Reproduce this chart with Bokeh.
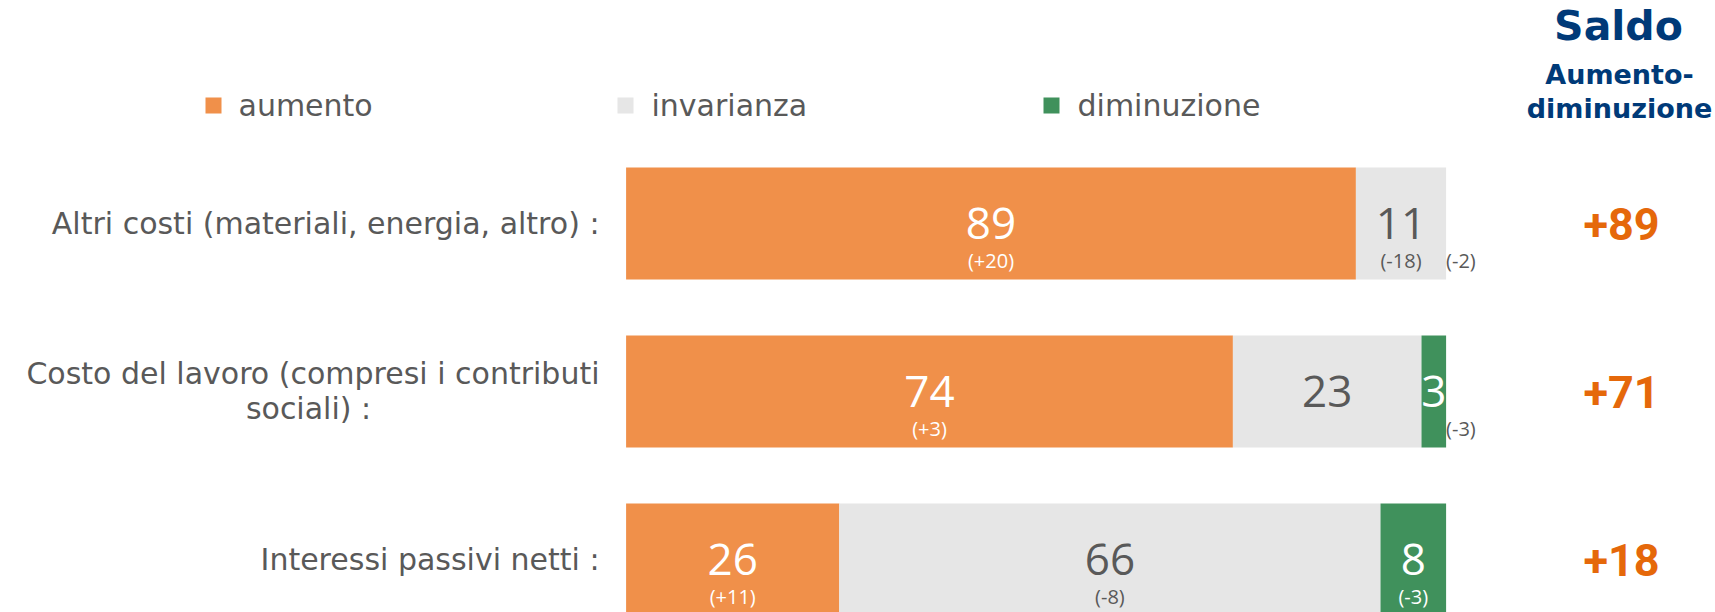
from bokeh.plotting import figure
from bokeh.models import ColumnDataSource, Range1d
from bokeh.core.properties import value
from bokeh.embed import file_html
from bokeh.resources import INLINE

# ---------------- data ----------------
categories = [
    "Altri costi (materiali, energia, altro) :",
    "Costo del lavoro (compresi i contributi\nsociali) :",
    "Interessi passivi netti :",
]
series = ["aumento", "invarianza", "diminuzione"]
aumento = [89, 74, 26]
invarianza = [11, 23, 66]
diminuzione = [0, 3, 8]
var_aumento = ["(+20)", "(+3)", "(+11)"]
var_invarianza = ["(-18)", "", "(-8)"]
var_diminuzione = ["(-2)", "(-3)", "(-3)"]
header_lines = ["Saldo", "Aumento-", "diminuzione"]

# ---------------- style ----------------
COL = {"aumento": "#F0904A", "invarianza": "#E6E6E6", "diminuzione": "#40915C"}
TXT_ON = {"aumento": "white", "invarianza": "#595959", "diminuzione": "white"}
GREY_TXT = "#595959"
BLUE = "#003A78"
SALDO_COL = "#E5680A"
FONT = "Open Sans"
LABEL_FONT = "DejaVu Sans"

W, H = 1715, 612
X0_PX, PX_PER_PCT = 625.6, 8.2       # bar origin and scale in canvas px
Y0_PX, PX_PER_ROW = 223.0, 168.0     # first row centre and row pitch


def X(px):
    return (px - X0_PX) / PX_PER_PCT


def Y(py):
    return (py - Y0_PX) / PX_PER_ROW


p = figure(width=W, height=H, output_backend="svg", toolbar_location=None,
           x_range=Range1d(X(0), X(W)), y_range=Range1d(Y(H), Y(0)),
           min_border=0)
p.axis.visible = False
p.grid.visible = False
p.outline_line_color = None
p.background_fill_color = "white"
p.border_fill_color = "white"

rows = list(range(len(categories)))
src = ColumnDataSource(dict(y=rows, aumento=aumento, invarianza=invarianza,
                            diminuzione=diminuzione))
p.hbar_stack(series, y="y", height=112 / PX_PER_ROW, source=src,
             color=[COL[s] for s in series], line_color=None)

# ---------------- value labels ----------------
vals = {"aumento": aumento, "invarianza": invarianza, "diminuzione": diminuzione}
vars_ = {"aumento": var_aumento, "invarianza": var_invarianza, "diminuzione": var_diminuzione}
SUB_DY = 37 / PX_PER_ROW
bx, by, bt, bc = [], [], [], []
sx, sy, st, sc = [], [], [], []
ox, oy, ot = [], [], []
for i in rows:
    left = 0
    for s in series:
        v = vals[s][i]
        mid = left + v / 2
        if v > 0:
            bx.append(mid); by.append(i); bt.append(str(v)); bc.append(TXT_ON[s])
        lab = vars_[s][i]
        if lab:
            if v >= 5:
                sx.append(mid); sy.append(i + SUB_DY); st.append(lab); sc.append(TXT_ON[s])
            else:
                ox.append(left + v); oy.append(i + SUB_DY); ot.append(lab)
        left += v

p.text(x=bx, y=by, text=bt, text_color=bc, text_font=value(FONT),
       text_font_size="44px", text_align="center", text_baseline="middle")
p.text(x=sx, y=sy, text=st, text_color=sc, text_font=value(FONT),
       text_font_size="20px", text_align="center", text_baseline="middle")
p.text(x=ox, y=oy, text=ot, text_color=GREY_TXT, text_font=value(FONT),
       text_font_size="20px", text_align="left", text_baseline="middle",
       x_offset=0)

# ---------------- category labels ----------------
LBL_RIGHT = 599
for i, c in enumerate(categories):
    lines = c.split("\n")
    if len(lines) == 1:
        p.text(x=[X(LBL_RIGHT)], y=[i], text=[c], text_color=GREY_TXT,
               text_font=value(LABEL_FONT), text_font_size="30px",
               text_align="right", text_baseline="middle")
    else:
        y1 = i - 18 / PX_PER_ROW
        y2 = i + 17 / PX_PER_ROW
        p.text(x=[X(LBL_RIGHT)], y=[y1], text=[lines[0]], text_color=GREY_TXT,
               text_font=value(LABEL_FONT), text_font_size="30px",
               text_align="right", text_baseline="middle")
        p.text(x=[X(308)], y=[y2], text=[lines[1]], text_color=GREY_TXT,
               text_font=value(LABEL_FONT), text_font_size="30px",
               text_align="center", text_baseline="middle")

# ---------------- legend ----------------
leg_sq_px = [213, 625, 1051]
leg_tx_px = [238, 651, 1077]
leg_y = Y(105)
p.scatter(x=[X(v) for v in leg_sq_px], y=[leg_y] * 3, marker="square", size=16,
          color=[COL[s] for s in series], line_color=None)
p.text(x=[X(v) for v in leg_tx_px], y=[leg_y] * 3, text=series,
       text_color=GREY_TXT, text_font=value(LABEL_FONT), text_font_size="30px",
       text_align="left", text_baseline="middle")

# ---------------- saldo ----------------
saldo = [a - d for a, d in zip(aumento, diminuzione)]
saldo_txt = [("+" if v > 0 else "") + str(v) for v in saldo]
p.text(x=[X(1621)] * 3, y=rows, text=saldo_txt, text_color=SALDO_COL,
       text_font=value("Roboto"), text_font_style="bold", text_font_size="45px",
       text_align="center", text_baseline="middle")

p.text(x=[X(1618)], y=[Y(25)], text=[header_lines[0]], text_color=BLUE,
       text_font=value("DejaVu Sans"), text_font_style="bold", text_font_size="41px",
       text_align="center", text_baseline="middle")
p.text(x=[X(1619)] * 2, y=[Y(74), Y(108)], text=header_lines[1:], text_color=BLUE,
       text_font=value("DejaVu Sans"), text_font_style="bold", text_font_size="27px",
       text_align="center", text_baseline="middle")

open("out.html", "w").write(file_html(p, INLINE))
